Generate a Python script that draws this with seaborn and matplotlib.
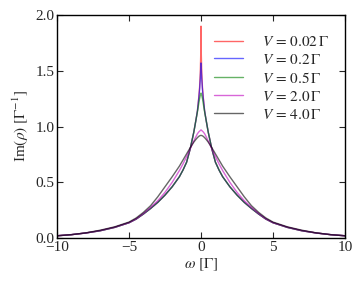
import numpy as np
import pandas as pd
import matplotlib
matplotlib.use("Agg")
import matplotlib.pyplot as plt
import seaborn as sns

sns.set_style("ticks")
plt.rcParams["font.family"] = ["Liberation Serif", "DejaVu Serif"]
plt.rcParams["mathtext.fontset"] = "stix"
plt.rcParams["font.size"] = 11
plt.rcParams["xtick.direction"] = "in"
plt.rcParams["ytick.direction"] = "in"

# frequency grid (in units of Gamma)
omega = [-10, -9, -8, -7, -6, -5, -4.5, -4, -3.5, -3, -2.5, -2, -1.5, -1.25, -1,
         -0.75, -0.5, -0.35, -0.25, -0.15, -0.1, -0.05, -0.02, 0,
         0.02, 0.05, 0.1, 0.15, 0.25, 0.35, 0.5, 0.75, 1, 1.25, 1.5, 2, 2.5,
         3, 3.5, 4, 4.5, 5, 6, 7, 8, 9, 10]

im_v002 = [0.02, 0.03, 0.045, 0.065, 0.095, 0.137, 0.17, 0.215, 0.265, 0.32, 0.385, 0.46, 0.55, 0.61, 0.68,
           0.80, 0.95, 1.06, 1.14, 1.27, 1.35, 1.48, 1.65, 1.90,
           1.65, 1.48, 1.35, 1.27, 1.14, 1.06, 0.95, 0.80, 0.68, 0.61, 0.55, 0.46, 0.385,
           0.32, 0.265, 0.215, 0.17, 0.137, 0.095, 0.065, 0.045, 0.03, 0.02]
im_v02 = [0.02, 0.03, 0.045, 0.065, 0.095, 0.137, 0.17, 0.215, 0.265, 0.32, 0.385, 0.46, 0.55, 0.61, 0.68,
          0.80, 0.95, 1.06, 1.14, 1.26, 1.33, 1.43, 1.52, 1.57,
          1.52, 1.43, 1.33, 1.26, 1.14, 1.06, 0.95, 0.80, 0.68, 0.61, 0.55, 0.46, 0.385,
          0.32, 0.265, 0.215, 0.17, 0.137, 0.095, 0.065, 0.045, 0.03, 0.02]
im_v05 = [0.02, 0.03, 0.045, 0.065, 0.095, 0.137, 0.17, 0.215, 0.265, 0.32, 0.385, 0.46, 0.55, 0.61, 0.68,
          0.80, 0.95, 1.06, 1.13, 1.21, 1.25, 1.28, 1.29, 1.30,
          1.29, 1.28, 1.25, 1.21, 1.13, 1.06, 0.95, 0.80, 0.68, 0.61, 0.55, 0.46, 0.385,
          0.32, 0.265, 0.215, 0.17, 0.137, 0.095, 0.065, 0.045, 0.03, 0.02]
im_v20 = [0.02, 0.03, 0.045, 0.067, 0.097, 0.138, 0.172, 0.22, 0.275, 0.335, 0.41, 0.5, 0.605, 0.665, 0.73,
          0.80, 0.87, 0.91, 0.935, 0.952, 0.958, 0.964, 0.967, 0.97,
          0.967, 0.964, 0.958, 0.952, 0.935, 0.91, 0.87, 0.80, 0.73, 0.665, 0.605, 0.5, 0.41,
          0.335, 0.275, 0.22, 0.172, 0.138, 0.097, 0.067, 0.045, 0.03, 0.02]
im_v40 = [0.02, 0.03, 0.046, 0.07, 0.10, 0.143, 0.18, 0.23, 0.29, 0.37, 0.46, 0.55, 0.645, 0.70, 0.755,
          0.81, 0.86, 0.885, 0.90, 0.912, 0.916, 0.919, 0.92, 0.92,
          0.92, 0.919, 0.916, 0.912, 0.90, 0.885, 0.86, 0.81, 0.755, 0.70, 0.645, 0.55, 0.46,
          0.37, 0.29, 0.23, 0.18, 0.143, 0.10, 0.07, 0.046, 0.03, 0.02]

labels = [r"$V\,=\,0.02\,\Gamma$", r"$V\,=\,0.2\,\Gamma$", r"$V\,=\,0.5\,\Gamma$",
          r"$V\,=\,2.0\,\Gamma$", r"$V\,=\,4.0\,\Gamma$"]
colors = ["r", "b", "g", "m", "k"]
series = [im_v002, im_v02, im_v05, im_v20, im_v40]

df = pd.concat([pd.DataFrame({"omega": omega, "im": s, "V": lab})
                for s, lab in zip(series, labels)], ignore_index=True)

fig = plt.figure(figsize=(3.62, 2.88), dpi=100)
ax = fig.add_axes([0.1575, 0.1736, 0.7956, 0.7743])

sns.lineplot(data=df, x="omega", y="im", hue="V", palette=colors, estimator=None,
             sort=False, alpha=0.6, linewidth=1.0, ax=ax)

ax.set_xlim(-10, 10)
ax.set_ylim(0, 2.0)
ax.set_xticks([-10, -5, 0, 5, 10])
ax.set_yticks([0.0, 0.5, 1.0, 1.5, 2.0])
ax.set_xticklabels(["\u221210", "\u22125", "0", "5", "10"])
ax.set_yticklabels(["0.0", "0.5", "1.0", "1.5", "2.0"])
ax.tick_params(top=True, right=True, length=4, width=0.8, pad=2)
for sp in ax.spines.values():
    sp.set_linewidth(1.0)
    sp.set_color("black")

ax.set_xlabel(r"$\omega$ $[\Gamma]$", labelpad=2)
ax.set_ylabel(r"Im$(\rho)$ $[\Gamma^{-1}]$", labelpad=3)

leg = ax.legend(loc="upper right", bbox_to_anchor=(1.015, 1.0), frameon=False,
                handlelength=1.85, handletextpad=1.3, labelspacing=0.26, borderaxespad=0.9)

fig.savefig("out.png", dpi=100)
